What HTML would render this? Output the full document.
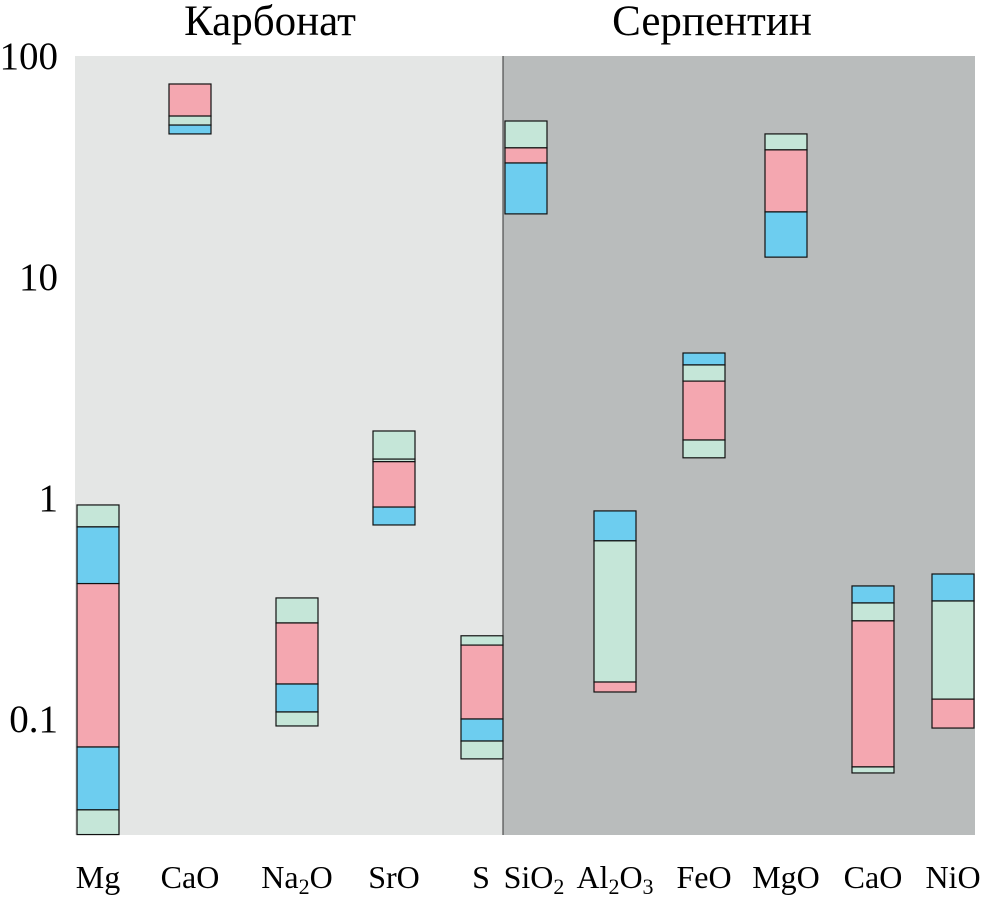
<!DOCTYPE html>
<html><head><meta charset="utf-8"><style>
body{margin:0;background:#fff;}
svg{display:block;font-family:"Liberation Serif","DejaVu Serif",serif;}
</style></head><body>
<svg id="chart" width="985" height="904" viewBox="0 0 985 904" xmlns="http://www.w3.org/2000/svg">
<rect x="75" y="56" width="428" height="779" fill="#e4e6e5"/>
<rect x="503" y="56" width="472" height="779" fill="#b9bcbc"/>
<line x1="503" y1="56" x2="503" y2="835" stroke="#333" stroke-width="1"/>
<text x="270" y="35" font-size="43" text-anchor="middle">Карбонат</text>
<text x="712" y="35" font-size="43" text-anchor="middle">Серпентин</text>
<g id="marks"></g>
</svg>
<script>
const categories = ["Mg","CaO","Na2O","SrO","S","SiO2","Al2O3","FeO","MgO","CaO","NiO"];
const colXs = [77,169,276,373,461,505,594,683,765,852,932];
const bounds = [
 [0.93,0.74,0.41,0.0747,0.0388,0.03],
 [74.7,53.5,48.7,44.4],
 [0.353,0.272,0.144,0.1076,0.093],
 [2.01,1.5,1.46,0.91,0.755],
 [0.238,0.216,0.1,0.0795,0.066],
 [50.8,38.4,32.8,19.3],
 [0.874,0.64,0.147,0.1325],
 [4.53,4.0,3.38,1.83,1.52],
 [44.4,37.6,19.7,12.3],
 [0.4,0.335,0.278,0.0607,0.057],
 [0.453,0.342,0.123,0.091]
];
const segColors = [
 ["g","b","p","b","g"],["p","g","b"],["g","p","b","g"],["g","g","p","b"],["g","p","b","g"],
 ["g","p","b"],["b","g","p"],["b","g","p","g"],["g","p","b"],["b","g","p","g"],["b","g","p"]
];
const tickValues = [100,10,1,0.1];
const tickLabels = ["100","10","1","0.1"];
const palette = {g:"#c5e6d8",b:"#6dcdef",p:"#f4a7b0"};
const NS="http://www.w3.org/2000/svg";
function y(v){return 56 + (2 - Math.log10(v))*221;}
const g=document.getElementById('marks');
bounds.forEach((bs,ci)=>{
  for(let i=0;i<bs.length-1;i++){
    const r=document.createElementNS(NS,'rect');
    const y0=y(bs[i]), y1=Math.min(y(bs[i+1]),835);
    r.setAttribute('x',colXs[ci]);r.setAttribute('y',y0);
    r.setAttribute('width',42);r.setAttribute('height',y1-y0);
    r.setAttribute('fill',palette[segColors[ci][i]]);
    r.setAttribute('stroke','#111');r.setAttribute('stroke-width','1.2');
    
    
    g.appendChild(r);
  }
});
tickValues.forEach((v,i)=>{
  const t=document.createElementNS(NS,'text');
  t.setAttribute('x',58);t.setAttribute('y',y(v)+13);
  t.setAttribute('font-size','39');t.setAttribute('text-anchor','end');
  t.textContent=tickLabels[i];
  
  
  g.appendChild(t);
});
categories.forEach((c,i)=>{
  const t=document.createElementNS(NS,'text');
  t.setAttribute('x',colXs[i]+21);t.setAttribute('y',888);
  t.setAttribute('font-size','32');t.setAttribute('text-anchor','middle');
  const parts=c.split(/(\d)/).filter(s=>s);
  parts.forEach(p=>{
    const ts=document.createElementNS(NS,'tspan');
    if(/\d/.test(p)){ts.setAttribute('font-size','22');ts.setAttribute('dy','6');}
    else if(t.childNodes.length && /\d/.test(t.lastChild.textContent)){ts.setAttribute('dy','-6');}
    ts.textContent=p;t.appendChild(ts);
  });
  if(i===4){t.setAttribute('x',481);}
  if(i===5){t.setAttribute('x',534);}
  
  
  g.appendChild(t);
});
</script>
</body></html>
